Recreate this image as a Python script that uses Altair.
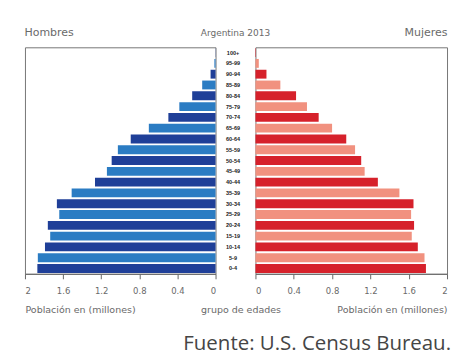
import altair as alt
import pandas as pd

# --- data (millions) ---
ages = ["0-4", "5-9", "10-14", "15-19", "20-24", "25-29", "30-34", "35-39",
        "40-44", "45-49", "50-54", "55-59", "60-64", "65-69", "70-74",
        "75-79", "80-84", "85-89", "90-94", "95-99", "100+"]
male = [1.87, 1.865, 1.79, 1.735, 1.76, 1.64, 1.665, 1.51, 1.265, 1.14,
        1.09, 1.025, 0.89, 0.70, 0.495, 0.38, 0.245, 0.14, 0.052, 0.012, 0.002]
female = [1.78, 1.765, 1.695, 1.632, 1.656, 1.625, 1.65, 1.503, 1.278, 1.14,
          1.104, 1.04, 0.948, 0.80, 0.66, 0.538, 0.424, 0.26, 0.115, 0.035, 0.005]
ticks = [0, 0.4, 0.8, 1.2, 1.6, 2]

df = pd.DataFrame({"edad": ages, "hombres": male, "mujeres": female})
df["tono"] = ["a" if i % 2 == 0 else "b" for i in range(len(ages))]

H = 227
FONT = "DejaVu Sans"
GRAY = "#6a6a6a"

y_enc = alt.Y("edad:N", sort=ages[::-1], axis=None,
              scale=alt.Scale(paddingInner=0.18, paddingOuter=0.08))


def x_axis(title, align, tx):
    return alt.Axis(values=ticks, format="~g", title=title, grid=False,
                    titleAlign=align, titleX=tx, titleY=36, titleBaseline="middle",
                    titleFont=FONT, titleFontSize=9.5, titleFontWeight="normal",
                    titleColor=GRAY, labelFont=FONT, labelFontSize=8.5,
                    labelColor=GRAY, labelPadding=8, tickSize=5,
                    tickColor="#666", domainColor="#666")


def ttl(text, anchor, size):
    return alt.TitleParams(text, anchor=anchor, font=FONT, fontSize=size,
                           fontWeight="normal", color=GRAY, offset=9)


left = alt.Chart(df, width=191, height=H, title=ttl("Hombres", "start", 11)).mark_bar().encode(
    x=alt.X("hombres:Q", scale=alt.Scale(domain=[0, 2], reverse=True),
            axis=x_axis("Población en (millones)", "left", 0)),
    y=y_enc,
    color=alt.Color("tono:N", scale=alt.Scale(domain=["a", "b"], range=["#1f3f98", "#2b7cc3"]),
                    legend=None),
)

center = alt.Chart(df, width=40, height=H, title=ttl("Argentina 2013", "middle", 9)).mark_text(
    font="Liberation Sans", fontWeight="bold", fontSize=5.5, color="#222", dx=-2.5
).encode(
    x=alt.XDatum(0, type="quantitative", scale=alt.Scale(domain=[-1, 1]),
                 axis=alt.Axis(title="grupo de edades", labels=False, ticks=False,
                               domain=False, grid=False, titleAlign="center", titleX=25,
                               titleY=36, titleBaseline="middle", titleFont=FONT,
                               titleFontSize=9.5, titleFontWeight="normal", titleColor=GRAY)),
    y=y_enc,
    text="edad:N",
).properties(view=alt.ViewBackground(strokeWidth=0))

right = alt.Chart(df, width=192, height=H, title=ttl("Mujeres", "end", 11)).mark_bar().encode(
    x=alt.X("mujeres:Q", scale=alt.Scale(domain=[0, 2]),
            axis=x_axis("Población en (millones)", "right", 192)),
    y=y_enc,
    color=alt.Color("tono:N", scale=alt.Scale(domain=["a", "b"], range=["#d6212b", "#f1917f"]),
                    legend=None),
)

chart = alt.hconcat(
    left, center, right, spacing=0, bounds="flush",
    padding={"left": 16, "top": 18, "right": 4, "bottom": 0},
    title=alt.TitleParams("Fuente: U.S. Census Bureau.", orient="bottom", anchor="end",
                          font="Open Sans", fontSize=20.5, fontWeight="normal",
                          color="#454545", offset=19, dx=3),
).resolve_scale(color="independent").configure_view(stroke="#777", strokeWidth=1)

chart.save("out.html", embed_options={"renderer": "svg", "actions": False})
